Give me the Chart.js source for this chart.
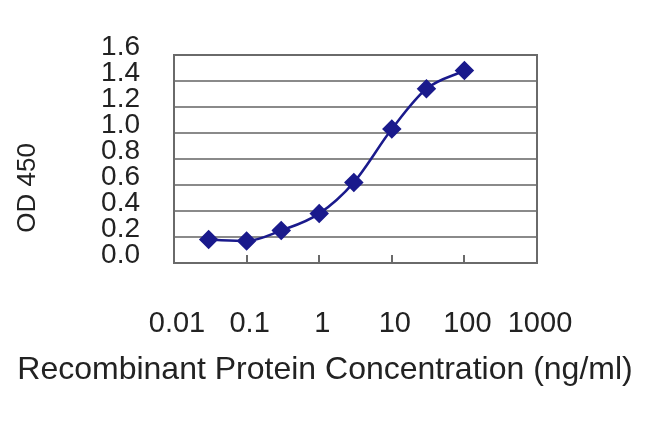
<!DOCTYPE html>
<html>
<head>
<meta charset="utf-8">
<script src="https://cdn.jsdelivr.net/npm/chart.js@4/dist/chart.umd.min.js"></script>
<style>
  html, body { margin: 0; padding: 0; background: #fff; }
  #wrap { width: 650px; height: 433px; }
</style>
</head>
<body>
<div id="wrap"><canvas id="c" width="650" height="433"></canvas></div>
<script>
// Data
const concentrations = [0.03, 0.1, 0.3, 1, 3, 10, 30, 100];
const odValues = [0.18, 0.17, 0.25, 0.38, 0.62, 1.03, 1.34, 1.48];
const xTickValues = [0.01, 0.1, 1, 10, 100, 1000];
const xTickLabels = ['0.01', '0.1', '1', '10', '100', '1000'];
const yTickValues = [0, 0.2, 0.4, 0.6, 0.8, 1.0, 1.2, 1.4, 1.6];
const xTitle = 'Recombinant Protein Concentration (ng/ml)';
const yTitle = 'OD 450';

const FONT = '"Liberation Sans", Arial, sans-serif';
const TEXT = '#222222';

const points = concentrations.map((x, i) => ({ x: x, y: odValues[i] }));

const frame = {
  id: 'frame',
  afterDraw(chart) {
    const { ctx, chartArea: a, scales } = chart;
    ctx.save();
    ctx.strokeStyle = '#6a6a6a';
    ctx.lineWidth = 2;
    ctx.strokeRect(a.left, a.top, a.right - a.left, a.bottom - a.top);
    // short inward tick marks at each decade on the bottom edge
    ctx.beginPath();
    xTickValues.forEach(v => {
      const px = Math.round(scales.x.getPixelForValue(v));
      ctx.moveTo(px, a.bottom);
      ctx.lineTo(px, a.bottom - 8);
    });
    ctx.stroke();
    ctx.restore();
  }
};

new Chart(document.getElementById('c'), {
  type: 'line',
  data: {
    datasets: [{
      data: points,
      borderColor: '#1a1a8c',
      backgroundColor: '#1a1a8c',
      borderWidth: 2.5,
      pointStyle: 'rectRot',
      pointRadius: 8,
      pointHoverRadius: 8,
      cubicInterpolationMode: 'monotone',
      fill: false
    }]
  },
  options: {
    responsive: false,
    animation: false,
    events: [],
    layout: { padding: { top: 55, right: 0, left: 0, bottom: 0 } },
    plugins: {
      legend: { display: false },
      tooltip: { enabled: false },
      title: {
        display: true,
        position: 'bottom',
        text: xTitle,
        color: TEXT,
        font: { family: FONT, size: 32, weight: 'normal' },
        padding: { top: 0, bottom: 44 }
      }
    },
    scales: {
      x: {
        type: 'logarithmic',
        min: 0.01,
        max: 1000,
        afterBuildTicks(scale) {
          scale.ticks = xTickValues.map(v => ({ value: v }));
        },
        afterFit(scale) { scale.height = 87.6; },
        grid: { display: false, drawTicks: false },
        border: { display: false },
        ticks: {
          autoSkip: false,
          maxRotation: 0,
          padding: 44,
          labelOffset: 3,
          color: TEXT,
          font: { family: FONT, size: 29 },
          callback: (v, i) => xTickLabels[i]
        }
      },
      y: {
        min: 0,
        max: 1.6,
        afterBuildTicks(scale) {
          scale.ticks = yTickValues.map(v => ({ value: v }));
        },
        afterFit(scale) { scale.width = 174; },
        grid: { color: '#8a8a8a', lineWidth: 2, drawTicks: false },
        border: { display: false },
        ticks: {
          autoSkip: false,
          padding: 34,
          labelOffset: -8,
          color: TEXT,
          font: { family: FONT, size: 28 },
          callback: v => Number(v).toFixed(1)
        },
        title: {
          display: true,
          text: yTitle + '        ',
          color: TEXT,
          font: { family: FONT, size: 26 },
          padding: { top: 12, bottom: 0 }
        }
      },
      // empty right-hand spacer so the plot ends where the reference's does
      yRight: {
        position: 'right',
        min: 0,
        max: 1,
        afterFit(scale) { scale.width = 113; },
        grid: { display: false, drawTicks: false },
        border: { display: false },
        ticks: { display: false }
      }
    }
  },
  plugins: [frame]
});
</script>
</body>
</html>
